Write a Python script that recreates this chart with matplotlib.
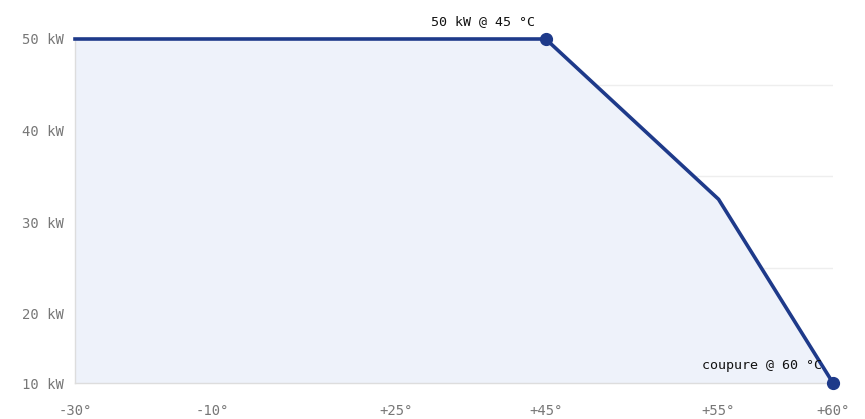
import matplotlib
matplotlib.use("Agg")
import matplotlib.pyplot as plt
import numpy as np

# derating curve: temperature (°C) -> power (kW)
temps = [-30, 45, 55, 60]
power = [50, 50, 32.5, 10]

# axis ticks (neither axis is linear in its unit)
tick_temps = [-30, -10, 25, 45, 55, 60]
tick_labels = ["-30°", "-10°", "+25°", "+45°", "+55°", "+60°"]
y_ticks = [10, 20, 30, 40, 50]
y_labels = ["10 kW", "20 kW", "30 kW", "40 kW", "50 kW"]
grid_levels = [25, 35, 45]

# annotated points
notes = [(45, 50, "50 kW @ 45 °C"), (60, 10, "coupure @ 60 °C")]

# where each tick sits along its axis (fraction of the axis length)
x_frac = [0.0, 0.181, 0.423, 0.621, 0.849, 1.0]
y_frac = [0.0, 0.2006, 0.468, 0.7326, 1.0]

LINE = "#1e3a8a"
FILL = "#eef2fa"
MONO = "DejaVu Sans Mono"


def piecewise(ticks, frac):
    return (lambda v: np.interp(v, ticks, frac),
            lambda f: np.interp(f, frac, ticks))


fig = plt.figure(figsize=(8.65, 4.19), dpi=100)
ax = fig.add_axes([75 / 865, 36 / 419, 758 / 865, 344 / 419])
ax.set_xscale("function", functions=piecewise(tick_temps, x_frac))
ax.set_yscale("function", functions=piecewise(y_ticks, y_frac))
ax.set_xlim(-30, 60)
ax.set_ylim(10, 50)

for g in grid_levels:
    ax.axhline(g, color="#eeeeee", lw=1, zorder=0)

ax.fill_between(temps, power, 10, color=FILL, lw=0, zorder=1)
ax.plot(temps, power, color=LINE, lw=2.6, zorder=3, clip_on=False,
        solid_joinstyle="round")
for t, p, label in notes:
    ax.plot(t, p, "o", color=LINE, ms=8.5, zorder=4, clip_on=False)
    ax.annotate(label, (t, p), xytext=(-8, 8), textcoords="offset points",
                ha="right", va="bottom", fontsize=9.6, family=MONO,
                color="#111111", zorder=5)

ax.set_xticks(tick_temps)
ax.set_xticklabels(tick_labels)
ax.set_yticks(y_ticks)
ax.set_yticklabels(y_labels)
ax.minorticks_off()
ax.tick_params(length=0, labelsize=10, labelcolor="#777777")
ax.tick_params(axis="x", pad=15)
ax.tick_params(axis="y", pad=8)
for lab in ax.get_xticklabels() + ax.get_yticklabels():
    lab.set_family(MONO)

for side in ["top", "right"]:
    ax.spines[side].set_visible(False)
for side in ["left", "bottom"]:
    ax.spines[side].set_color("#dddddd")
    ax.spines[side].set_linewidth(1)
    ax.spines[side].set_zorder(2)

fig.savefig("out.png", dpi=100)
